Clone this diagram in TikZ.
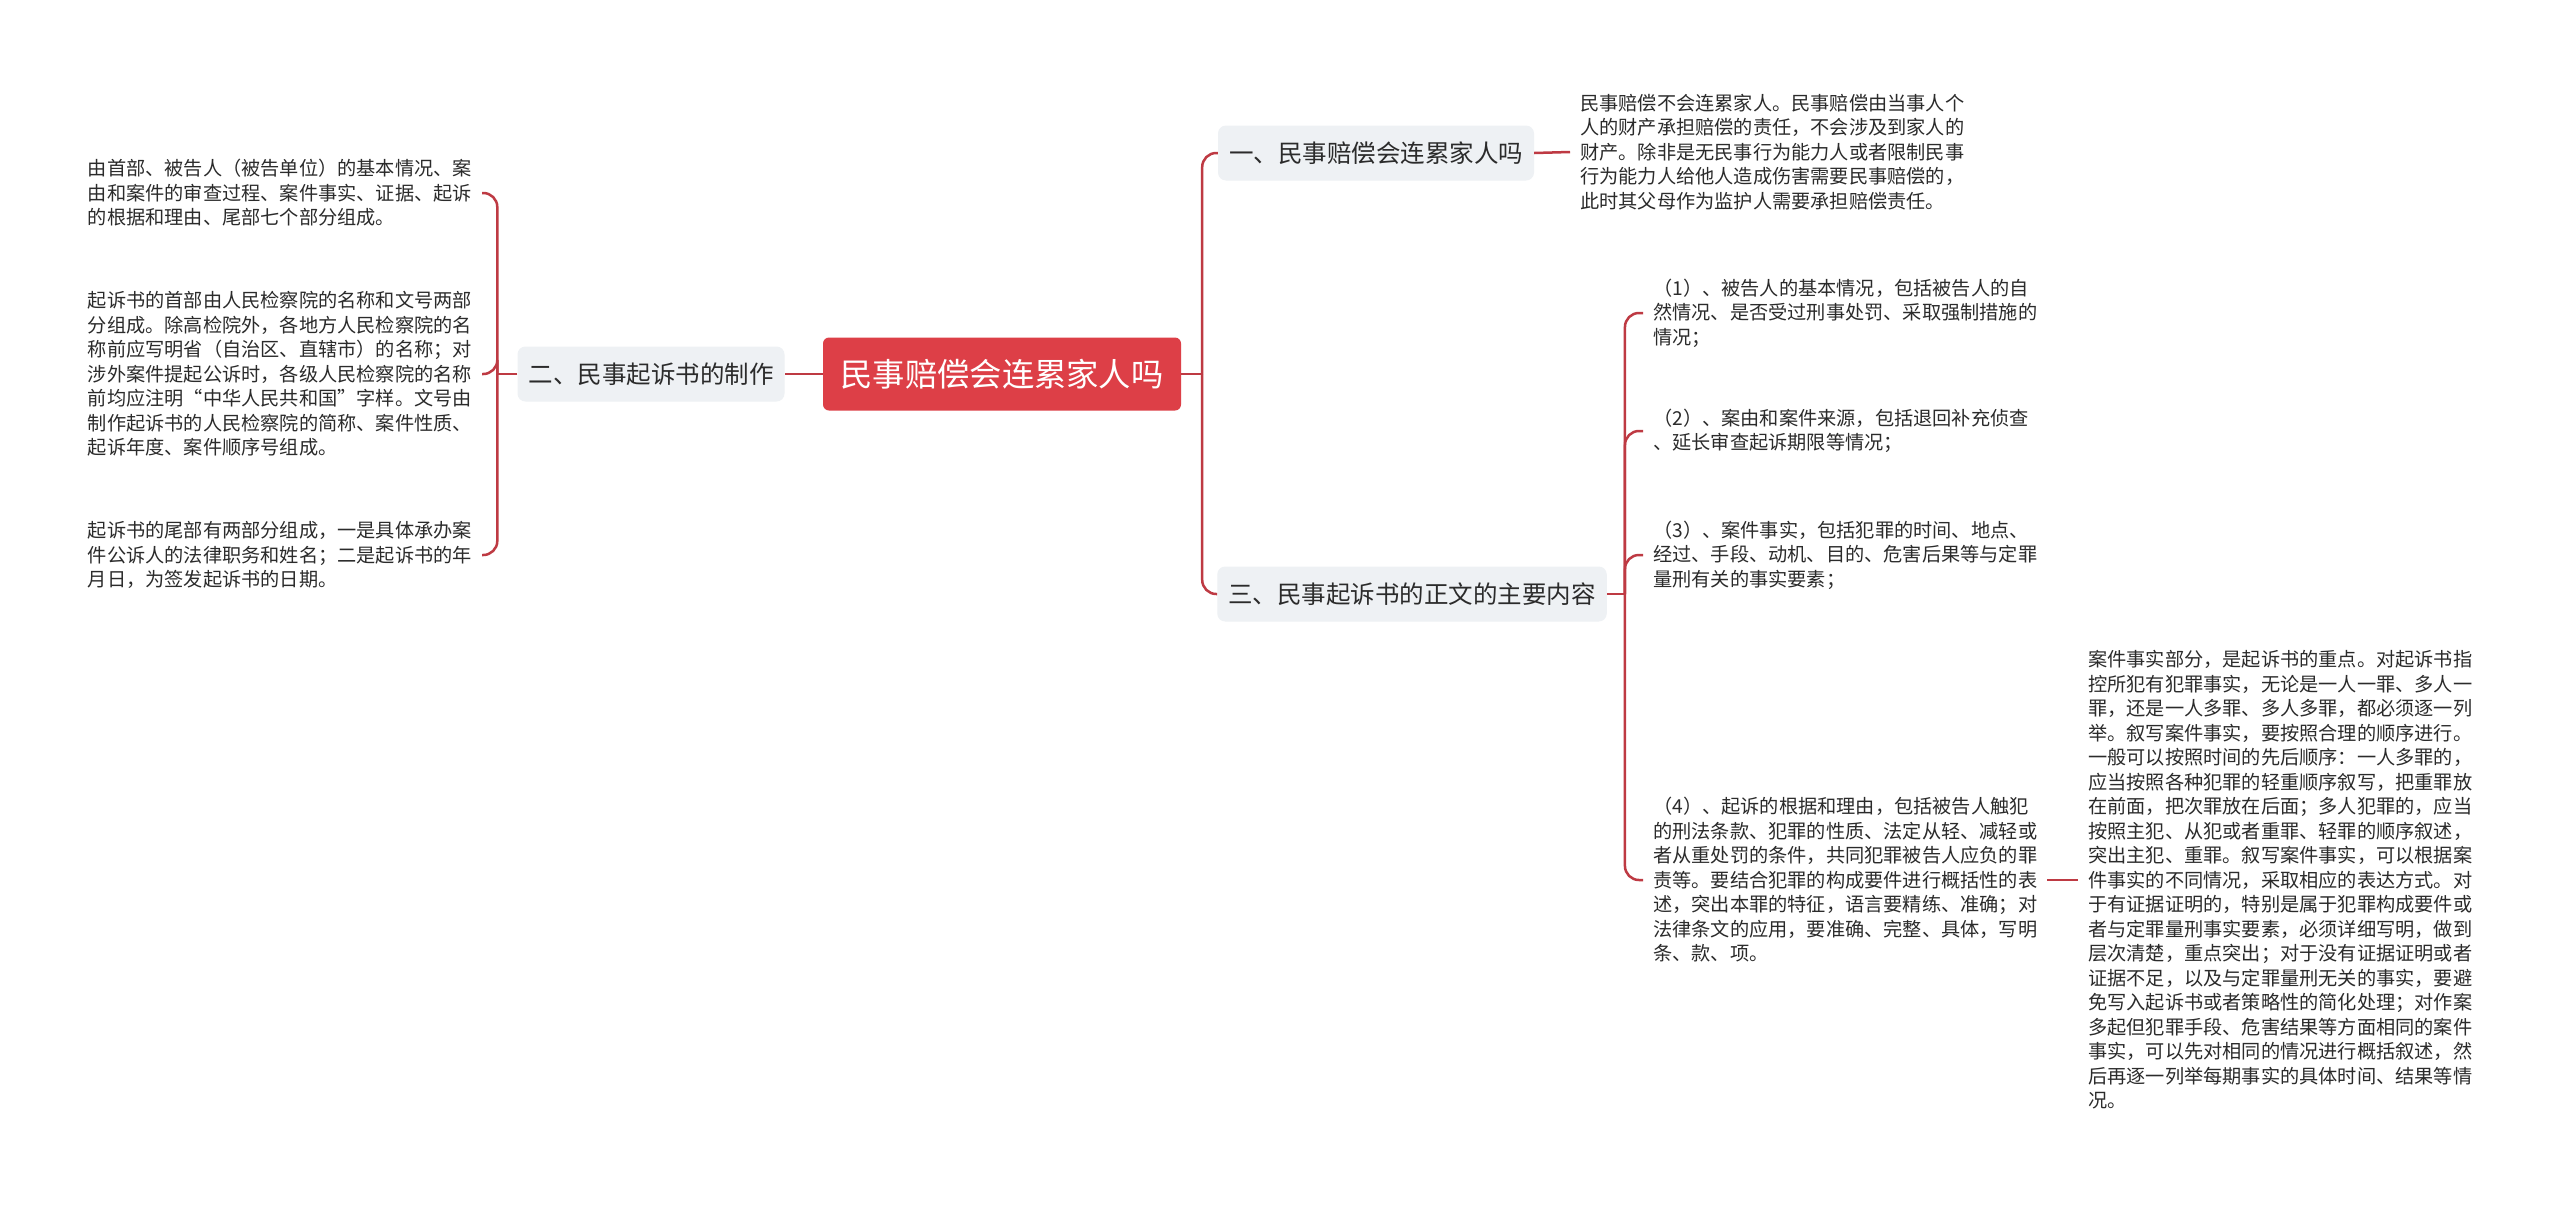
\documentclass[tikz,border=0pt]{standalone}
\usepackage{fontspec}
\usepackage{xcolor}
\usepackage{tikz}
\usetikzlibrary{positioning, calc}
\newfontfamily\cjk{Noto Sans CJK SC}
\definecolor{SMred}{HTML}{DD3F47}
\definecolor{SMline}{HTML}{BE3A43}
\definecolor{SMgray}{HTML}{EEF1F4}
\definecolor{SMtext}{HTML}{2B2B2B}

\begin{document}
\begin{tikzpicture}[
      x=1pt, y=1pt,
      rootbox/.style={
        rectangle, rounded corners=6pt, fill=SMred, text=white,
        font=\cjk\fontsize{32.3}{36}\selectfont,
        minimum width=358pt, minimum height=73pt, inner sep=0pt
      },
      secbox/.style={
        rectangle, rounded corners=8pt, fill=SMgray, text=SMtext,
        font=\cjk\fontsize{24.5}{28}\selectfont,
        inner xsep=11pt, minimum height=55pt
      },
      leaftxt/.style={
        align=left, text=SMtext, inner xsep=10pt, inner ysep=0pt,
        font=\cjk\fontsize{19.2}{24.5}\selectfont
      },
      maplink/.style={draw=SMline, line width=2.5pt, rounded corners=14pt}
    ]
    \useasboundingbox[fill=white] (0,0) rectangle (2560,-1205);

    % Level 1: Root
    \node[rootbox] (root) at (1002,-374) {民事赔偿会连累家人吗};

    % Level 2: Sections
    \node[secbox] (sec1) at (1376,-153) {一、民事赔偿会连累家人吗};
    \node[secbox] (sec2) at (651,-374)  {二、民事起诉书的制作};
    \node[secbox] (sec3) at (1412,-594) {三、民事起诉书的正文的主要内容};

    % Section 1 text
    \node[leaftxt, anchor=west] (ans1) at (1570,-152)
      {民事赔偿不会连累家人。民事赔偿由当事人个\\
       人的财产承担赔偿的责任，不会涉及到家人的\\
       财产。除非是无民事行为能力人或者限制民事\\
       行为能力人给他人造成伤害需要民事赔偿的，\\
       此时其父母作为监护人需要承担赔偿责任。};

    % Section 2 texts (left side)
    \node[leaftxt, anchor=east] (mk1) at (482,-193)
      {由首部、被告人（被告单位）的基本情况、案\\
       由和案件的审查过程、案件事实、证据、起诉\\
       的根据和理由、尾部七个部分组成。};
    \node[leaftxt, anchor=east] (mk2) at (482,-374)
      {起诉书的首部由人民检察院的名称和文号两部\\
       分组成。除高检院外，各地方人民检察院的名\\
       称前应写明省（自治区、直辖市）的名称；对\\
       涉外案件提起公诉时，各级人民检察院的名称\\
       前均应注明“中华人民共和国”字样。文号由\\
       制作起诉书的人民检察院的简称、案件性质、\\
       起诉年度、案件顺序号组成。};
    \node[leaftxt, anchor=east] (mk3) at (482,-555)
      {起诉书的尾部有两部分组成，一是具体承办案\\
       件公诉人的法律职务和姓名；二是起诉书的年\\
       月日，为签发起诉书的日期。};

    % Section 3 items (right side)
    \node[leaftxt, anchor=west] (item1) at (1643,-313)
      {（1）、被告人的基本情况，包括被告人的自\\
       然情况、是否受过刑事处罚、采取强制措施的\\
       情况；};
    \node[leaftxt, anchor=west] (item2) at (1643,-431)
      {（2）、案由和案件来源，包括退回补充侦查\\
       、延长审查起诉期限等情况；};
    \node[leaftxt, anchor=west] (item3) at (1643,-555)
      {（3）、案件事实，包括犯罪的时间、地点、\\
       经过、手段、动机、目的、危害后果等与定罪\\
       量刑有关的事实要素；};
    \node[leaftxt, anchor=west] (item4) at (1643,-880)
      {（4）、起诉的根据和理由，包括被告人触犯\\
       的刑法条款、犯罪的性质、法定从轻、减轻或\\
       者从重处罚的条件，共同犯罪被告人应负的罪\\
       责等。要结合犯罪的构成要件进行概括性的表\\
       述，突出本罪的特征，语言要精练、准确；对\\
       法律条文的应用，要准确、完整、具体，写明\\
       条、款、项。};

    % Item 4 detail
    \node[leaftxt, anchor=west] (fact) at (2078,-880)
      {案件事实部分，是起诉书的重点。对起诉书指\\
       控所犯有犯罪事实，无论是一人一罪、多人一\\
       罪，还是一人多罪、多人多罪，都必须逐一列\\
       举。叙写案件事实，要按照合理的顺序进行。\\
       一般可以按照时间的先后顺序：一人多罪的，\\
       应当按照各种犯罪的轻重顺序叙写，把重罪放\\
       在前面，把次罪放在后面；多人犯罪的，应当\\
       按照主犯、从犯或者重罪、轻罪的顺序叙述，\\
       突出主犯、重罪。叙写案件事实，可以根据案\\
       件事实的不同情况，采取相应的表达方式。对\\
       于有证据证明的，特别是属于犯罪构成要件或\\
       者与定罪量刑事实要素，必须详细写明，做到\\
       层次清楚，重点突出；对于没有证据证明或者\\
       证据不足，以及与定罪量刑无关的事实，要避\\
       免写入起诉书或者策略性的简化处理；对作案\\
       多起但犯罪手段、危害结果等方面相同的案件\\
       事实，可以先对相同的情况进行概括叙述，然\\
       后再逐一列举每期事实的具体时间、结果等情\\
       况。};

    % Trunk points
    \coordinate (rk)  at ($(root.east)+(21,0)$);
    \coordinate (lk)  at ($(sec2.west)+(-20,0)$);
    \coordinate (rk3) at ($(sec3.east)+(18,0)$);

    % Connectors
    \draw[maplink] (root.east) -- (rk);
    \draw[maplink] (rk) |- (sec1.west);
    \draw[maplink] (rk) |- (sec3.west);
    \draw[maplink] (root.west) -- (sec2.east);
    \draw[maplink] (sec1.east) -- (ans1.west);

    \draw[maplink] (sec2.west) -- (lk);
    \foreach \leaf in {mk1, mk2, mk3}
      \draw[maplink] (lk) |- (\leaf.east);

    \draw[maplink] (sec3.east) -- (rk3);
    \foreach \leaf in {item1, item2, item3, item4}
      \draw[maplink] (rk3) |- (\leaf.west);

    \draw[maplink] (item4.east) -- (item4.east -| fact.west);
  \end{tikzpicture}
\end{document}
